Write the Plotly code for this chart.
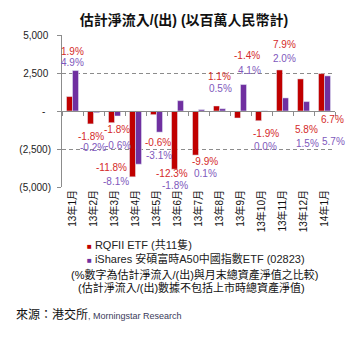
import plotly.graph_objects as go

# ---- data ----
categories = ["13年1月", "13年2月", "13年3月", "13年4月", "13年5月", "13年6月", "13年7月",
              "13年8月", "13年9月", "13年10月", "13年11月", "13年12月", "14年1月"]
rqfii = [950, -850, -770, -4330, -240, -3830, -2900, 330, -460, -640, 2700, 2110, 2460]
ishares = [2660, -110, -330, -3500, -1390, 680, 90, 150, 1740, 10, 860, 620, 2310]
rqfii_pct = ["1.9%", "-1.8%", "-1.8%", "-11.8%", "-0.6%", "-12.3%", "-9.9%",
             "1.1%", "-1.4%", "-1.9%", "7.9%", "5.8%", "6.7%"]
ishares_pct = ["4.9%", "-0.2%", "-0.6%", "-8.1%", "-3.1%", "-1.8%", "0.1%",
               "0.5%", "4.1%", "0.0%", "2.0%", "1.5%", "5.7%"]
y_ticks = [-5000, -2500, 0, 2500, 5000]
y_tick_text = ["(5,000)", "(2,500)", "-\u00a0\u00a0", "2,500\u00a0", "5,000\u00a0"]

# ---- label placement (category offset, value position) ----
red_dx = [0.0, -0.1, 0.12, -1.12, 0.07, -0.24, 0.3, 0.0, 0.3, 0.2, 0.1, 0.12, 0.4]
red_y = [3890, -1650, -1190, -3700, -2050, -4090, -3300, 2240, 3630, -1450, 4360, -1190, -530]
pur_dx = [0.02, -0.02, 0.17, -0.95, 0.14, -0.14, 0.33, 0.07, 0.43, 0.19, 0.1, 0.17, 0.43]
pur_y = [3170, -2380, -2240, -4620, -2900, -4880, -4090, 1450, 2640, -2310, 3430, -2110, -1980]

RED = "#C00000"
PURPLE = "#7030A0"
RED_TXT = "#D42A2A"
PUR_TXT = "#8058BC"
GRID = "#8C8C8C"
FONT = "Liberation Sans, Arial, Noto Sans CJK TC, sans-serif"

fig = go.Figure()
fig.add_trace(go.Bar(x=categories, y=rqfii, name="RQFII ETF (共11隻)",
                     marker_color=RED, showlegend=False))
fig.add_trace(go.Bar(x=categories, y=ishares, name="iShares 安碩富時A50中國指數ETF (02823)",
                     marker_color=PURPLE, showlegend=False))
# invisible trace to carry the bottom category labels
fig.add_trace(go.Scatter(x=categories, y=[0] * len(categories), xaxis="x2", mode="markers",
                         marker=dict(opacity=0), showlegend=False, hoverinfo="skip"))

for i in range(len(categories)):
    fig.add_annotation(x=i + red_dx[i], y=red_y[i], xref="x", yref="y", text=rqfii_pct[i],
                       showarrow=False, font=dict(size=10, color=RED_TXT, family=FONT))
    fig.add_annotation(x=i + pur_dx[i], y=pur_y[i], xref="x", yref="y", text=ishares_pct[i],
                       showarrow=False, font=dict(size=10, color=PUR_TXT, family=FONT))

def px_x(p):
    return (p - 62) / 273

def px_y(p):
    return (187 - p) / 152

# legend-like annotations and notes
fig.add_annotation(x=px_x(85), y=px_y(244), xref="paper", yref="paper", xanchor="left",
                   yanchor="middle", showarrow=False,
                   text=f'<span style="color:{RED};font-size:8px">■</span> RQFII ETF (共11隻)',
                   font=dict(size=11, color="#222222", family=FONT))
fig.add_annotation(x=px_x(85), y=px_y(258), xref="paper", yref="paper", xanchor="left",
                   yanchor="middle", showarrow=False,
                   text=f'<span style="color:{PURPLE};font-size:8px">■</span> iShares 安碩富時A50中國指數ETF (02823)',
                   font=dict(size=11, color="#222222", family=FONT))
fig.add_annotation(x=px_x(195), y=px_y(274), xref="paper", yref="paper", xanchor="center",
                   yanchor="middle", showarrow=False,
                   text="(%數字為估計淨流入/(出)與月末總資產淨值之比較)",
                   font=dict(size=11, color="#111111", family=FONT))
fig.add_annotation(x=px_x(191), y=px_y(287), xref="paper", yref="paper", xanchor="center",
                   yanchor="middle", showarrow=False,
                   text="(估計淨流入/(出)數據不包括上市時總資產淨值)",
                   font=dict(size=11, color="#111111", family=FONT))
fig.add_annotation(x=px_x(14), y=px_y(314), xref="paper", yref="paper", xanchor="left",
                   yanchor="middle", showarrow=False,
                   text='來源：港交所<span style="font-size:9px;color:#3A3A5A">, Morningstar Research</span>',
                   font=dict(size=12, color="#111111", family=FONT))

fig.update_layout(
    width=363, height=338,
    margin=dict(l=62, r=28, t=35, b=151),
    paper_bgcolor="white", plot_bgcolor="white",
    font=dict(family=FONT, size=10, color="#222222"),
    title=dict(text="<b>估計淨流入/(出) (以百萬人民幣計)</b>", x=0.507, xref="container",
               y=1 - 20 / 338, yref="container", yanchor="middle", xanchor="center",
               font=dict(size=14, color="#111111", family=FONT)),
    barmode="group", bargap=0.43, bargroupgap=0,
    showlegend=False,
    xaxis=dict(type="category", anchor="free", position=0.5, showline=True, linecolor=GRID,
               linewidth=1, ticks="outside", tickson="boundaries", ticklen=4, tickcolor=GRID,
               showticklabels=False, showgrid=False, zeroline=False,
               range=[-0.5, len(categories) - 0.5]),
    xaxis2=dict(type="category", overlaying="x", anchor="y", side="bottom", matches="x",
                showline=False, ticks="", showgrid=False, zeroline=False, tickangle=-90,
                tickfont=dict(size=10, color="#111111", family=FONT)),
    yaxis=dict(range=[-5000, 5000], tickmode="array", tickvals=y_ticks, ticktext=y_tick_text,
               showgrid=True, gridcolor=GRID, griddash="4px,3px", gridwidth=1,
               zeroline=True, zerolinecolor=GRID, zerolinewidth=1,
               showline=True, linecolor=GRID, linewidth=1,
               ticks="outside", ticklen=4, tickcolor=GRID, ticklabelstandoff=4,
               tickfont=dict(size=10, color="#222222", family=FONT)),
)

fig.write_html("out.html")
